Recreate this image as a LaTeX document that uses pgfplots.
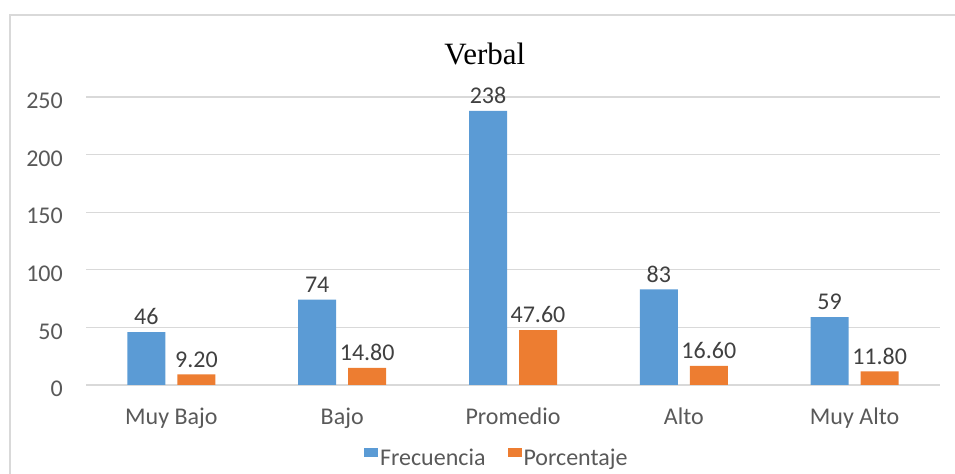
\documentclass[border=0pt]{standalone}
\usepackage{pgfplots}
\pgfplotsset{compat=1.18}
\usepackage{fontspec}
\setmainfont{Carlito}
\newfontfamily\titlefont{Liberation Serif}
\definecolor{cblue}{HTML}{5B9BD5}
\definecolor{corange}{HTML}{ED7D31}
\definecolor{gridc}{HTML}{D9D9D9}
\definecolor{ticktext}{HTML}{595959}
\definecolor{labeltext}{HTML}{404040}
\begin{document}
\begin{tikzpicture}[x=1bp,y=1bp]
\path[use as bounding box] (0,0) rectangle (955,474);
\draw[gridc, line width=1.5bp] (10,0) -- (10,459) -- (955,459);
\begin{axis}[
  at={(86bp,89bp)}, anchor=south west,
  scale only axis, width=854bp, height=288bp,
  ybar, bar width=38bp,
  xmin=-0.5, xmax=4.5, ymin=0, ymax=250,
  xtick={0,1,2,3,4},
  xticklabels={Muy Bajo, Bajo, Promedio, Alto, Muy Alto},
  ytick={0,50,...,250},
  major tick length=0pt,
  axis line style={draw=none},
  ymajorgrids, grid style={gridc, line width=1.2bp},
  clip=false,
  /pgf/number format/assume math mode=true,
  tick label style={font=\fontsize{24bp}{28bp}\selectfont, text=ticktext, inner sep=0pt},
  yticklabel style={anchor=east, xshift=-23bp, yshift=-4bp},
  xticklabel style={anchor=north, yshift=-23bp},
  nodes near coords,
  every node near coord/.append style={anchor=south, inner sep=0pt, yshift=7bp,
     font=\fontsize{24bp}{28bp}\selectfont, text=labeltext},
  title={\titlefont Verbal},
  title style={at={(0.467,1)}, anchor=base, yshift=27bp, inner sep=0pt,
     font=\fontsize{31bp}{36bp}\selectfont},
  legend columns=2,
  legend style={draw=none, fill=none, at={(0.481,-0.255)}, anchor=center,
     font=\fontsize{24bp}{28bp}\selectfont, text=ticktext,
     /tikz/every even column/.append style={column sep=20bp}},
  legend image code/.code={\fill[#1] (0bp,1bp) rectangle (14bp,10bp);},
]
\addplot[fill=cblue, draw=none, bar shift=-25bp] coordinates {(0,46) (1,74) (2,238) (3,83) (4,59)};
\addplot[fill=corange, draw=none, bar shift=25bp,
  nodes near coords={\pgfmathprintnumber[fixed,fixed zerofill,precision=2]{\pgfplotspointmeta}}]
  coordinates {(0,9.2) (1,14.8) (2,47.6) (3,16.6) (4,11.8)};
\legend{Frecuencia, Porcentaje}
\end{axis}
\end{tikzpicture}
\end{document}
